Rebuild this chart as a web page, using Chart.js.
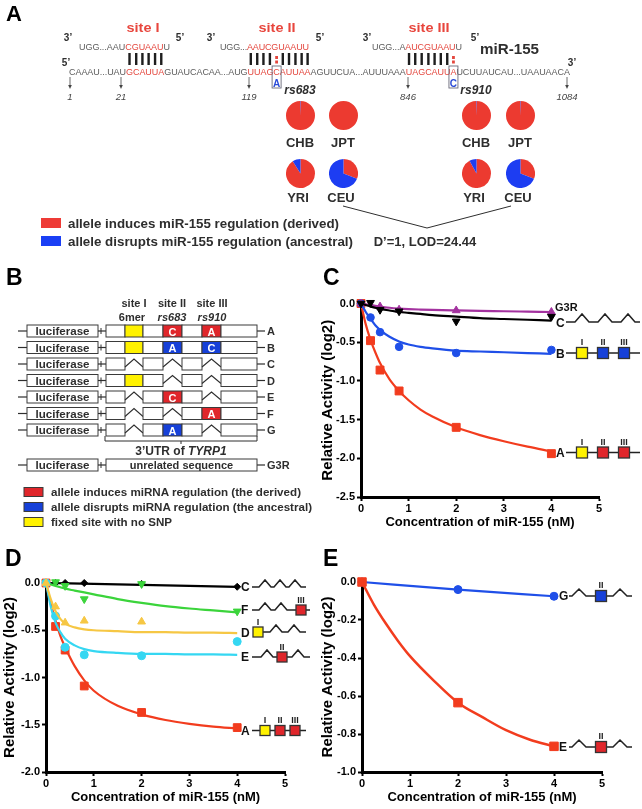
<!DOCTYPE html>
<html>
<head>
<meta charset="utf-8">
<title>miR-155 / TYRP1</title>
<script src="https://cdn.jsdelivr.net/npm/chart.js@4.4.1/dist/chart.umd.min.js"></script>
<style>
  html, body { margin: 0; padding: 0; background: #fff; overflow: hidden; }
  #page { position: relative; width: 642px; height: 809px; }
  #page canvas { position: absolute; }
  #art { position: absolute; left: 0; top: 0; font-family: "Liberation Sans", Arial, sans-serif; }
</style>
</head>
<body>
<div id="page">
  <canvas id="chartC" width="322" height="240" style="left:320px; top:290px"></canvas>
  <canvas id="chartD" width="320" height="249" style="left:0px; top:560px"></canvas>
  <canvas id="chartE" width="322" height="249" style="left:320px; top:560px"></canvas>
  <svg id="art" width="642" height="809" xmlns="http://www.w3.org/2000/svg"></svg>
</div>
<script>
// ---- values ----

// A: allele frequencies per HapMap population
const populations = ['CHB', 'JPT', 'YRI', 'CEU'];
const rs683Derived   = [0.995, 1.00, 0.91, 0.31];
const rs683Ancestral = [0.005, 0.00, 0.09, 0.69];
const rs910Derived   = [0.995, 0.995, 0.92, 0.31];
const rs910Ancestral = [0.005, 0.005, 0.08, 0.69];

// B: reporter constructs ('' = site deleted)
const constructs = ['A', 'B', 'C', 'D', 'E', 'F', 'G'];
const siteI   = ['6mer', '6mer', '', '6mer', '', '', ''];
const siteII  = ['C', 'A', '', '', 'C', '', 'A'];   // rs683, C is derived
const siteIII = ['A', 'C', '', '', '', 'A', ''];    // rs910, A is derived

// C
const concC   = [0, 0.2, 0.4, 0.8, 2, 4];
const cA      = [0, -0.48, -0.86, -1.13, -1.60, -1.94];
const cB      = [0, -0.18, -0.37, -0.56, -0.64, -0.60];
const cC      = [0, 0.01, -0.08, -0.10, -0.23, -0.17];
const concG3R = [0, 0.4, 0.8, 2, 4];
const cG3R    = [0, -0.04, -0.08, -0.09, -0.11];
const fitXC   = [0, 0.1, 0.2, 0.3, 0.4, 0.6, 0.8, 1, 1.25, 1.5, 2, 2.5, 3, 3.5, 4];
const fitCA   = [0, -0.27, -0.47, -0.63, -0.77, -0.98, -1.13, -1.25, -1.37, -1.46, -1.60, -1.70, -1.78, -1.85, -1.91];
const fitCB   = [0, -0.11, -0.20, -0.28, -0.34, -0.43, -0.49, -0.53, -0.56, -0.58, -0.61, -0.62, -0.63, -0.64, -0.65];
const fitCC   = [0, -0.02, -0.04, -0.055, -0.07, -0.09, -0.11, -0.12, -0.135, -0.15, -0.17, -0.19, -0.20, -0.21, -0.22];
const fitCG3R = [0, -0.01, -0.02, -0.03, -0.04, -0.055, -0.065, -0.072, -0.078, -0.083, -0.09, -0.096, -0.10, -0.105, -0.11];

// D
const concD  = [0, 0.2, 0.4, 0.8, 2, 4];
const dA     = [0, -0.46, -0.71, -1.09, -1.37, -1.53];
const dE     = [0, -0.35, -0.68, -0.76, -0.77, -0.62];
const dF     = [0, 0.01, -0.03, -0.17, -0.01, -0.30];
const dC     = [0, 0, 0, 0, -0.01, -0.04];
const concDD = [0, 0.2, 0.4, 0.8, 2];
const dD     = [0, -0.25, -0.42, -0.40, -0.41];
const fitXD  = [0, 0.1, 0.2, 0.3, 0.4, 0.6, 0.8, 1, 1.5, 2, 2.5, 3, 3.5, 4];
const fitDA  = [0, -0.22, -0.40, -0.56, -0.68, -0.88, -1.03, -1.14, -1.30, -1.39, -1.45, -1.49, -1.52, -1.54];
const fitDE  = [0, -0.25, -0.42, -0.52, -0.59, -0.66, -0.70, -0.72, -0.74, -0.75, -0.75, -0.755, -0.755, -0.76];
const fitDD  = [0, -0.17, -0.30, -0.38, -0.43, -0.47, -0.49, -0.50, -0.51, -0.52, -0.52, -0.525, -0.525, -0.53];
const fitDF  = [0, -0.015, -0.03, -0.045, -0.06, -0.08, -0.10, -0.12, -0.17, -0.21, -0.245, -0.27, -0.29, -0.31];
const fitXDC = [0, 1, 2, 3, 4];
const fitDC  = [0, -0.01, -0.02, -0.03, -0.04];

// E
const concE = [0, 2, 4];
const eG    = [0, -0.04, -0.075];
const eE    = [0, -0.635, -0.865];
const fitXE = [0, 0.25, 0.5, 0.75, 1, 1.5, 2, 2.5, 3, 3.5, 4];
const fitEE = [0, -0.12, -0.22, -0.31, -0.39, -0.52, -0.635, -0.71, -0.78, -0.83, -0.865];

// ---- colours ----
const RED = '#f23c1e', BLUE = '#1f4fe8', PURPLE = '#a3329f', GREEN = '#3bd43b', GOLD = '#f6c744', CYAN = '#35d7f2';
const PIE_RED = '#ec3a30', PIE_BLUE = '#1d3df2';
const BOX_RED = '#e0262b', BOX_BLUE = '#1640d8', BOX_YEL = '#fff200';
const INK = '#2e2e2e', SEQ_GRAY = '#5c5c5c', SEQ_RED = '#e4473e';
const FONT = '"Liberation Sans", Arial, sans-serif';

// ---- svg helpers for the drawn schematics ----
const NS = 'http://www.w3.org/2000/svg';
const svg = document.getElementById('art');
const page = document.getElementById('page');

function el(tag, attrs, content) {
  const e = document.createElementNS(NS, tag);
  for (const k in attrs) e.setAttribute(k, attrs[k]);
  if (content !== undefined) e.textContent = content;
  svg.appendChild(e);
  return e;
}
function text(x, y, s, o = {}) {
  const a = { x, y, 'font-size': o.size || 11, fill: o.fill || INK };
  if (o.weight) a['font-weight'] = o.weight;
  if (o.style) a['font-style'] = o.style;
  if (o.anchor) a['text-anchor'] = o.anchor;
  if (o.len) { a.textLength = o.len; a.lengthAdjust = o.adjust || 'spacingAndGlyphs'; }
  return el('text', a, s);
}
function rich(x, y, parts, o = {}) {
  const t = text(x, y, '', o);
  parts.forEach(p => {
    const sp = document.createElementNS(NS, 'tspan');
    sp.setAttribute('fill', p[1]);
    if (p[2]) sp.setAttribute('font-style', p[2]);
    sp.textContent = p[0];
    t.appendChild(sp);
  });
  return t;
}
function line(x1, y1, x2, y2, color, w) {
  return el('line', { x1, y1, x2, y2, stroke: color || INK, 'stroke-width': w || 1 });
}
function box(x, y, w, h, fill, stroke, sw) {
  return el('rect', { x, y, width: w, height: h, fill, stroke: stroke || 'none', 'stroke-width': sw || 1 });
}

// ---------- panel A ----------
text(6, 21, 'A', { size: 22, weight: 'bold', fill: '#000' });
[['site I', 143, 33], ['site II', 277, 37], ['site III', 429, 41]].forEach(([s, x, w]) =>
  text(x, 32, s, { size: 13, weight: 'bold', fill: '#e8463d', anchor: 'middle', len: w }));
[[68, '3’'], [180, '5’'], [211, '3’'], [320, '5’'], [367, '3’'], [475, '5’']].forEach(([x, s]) =>
  text(x, 41, s, { size: 10, weight: 'bold', anchor: 'middle' }));

rich(79, 50, [['UGG...AAU', SEQ_GRAY], ['CGUAAU', SEQ_RED], ['U', SEQ_GRAY]], { size: 9, len: 91, adjust: 'spacing' });
rich(220, 50, [['UGG...', SEQ_GRAY], ['AAUCGUAAUU', SEQ_RED]], { size: 9, len: 89, adjust: 'spacing' });
rich(372, 50, [['UGG...A', SEQ_GRAY], ['AUCGUAAU', SEQ_RED], ['U', SEQ_GRAY]], { size: 9, len: 90, adjust: 'spacing' });
text(480, 54, 'miR-155', { size: 15, weight: 'bold', len: 59 });

text(66, 66, '5’', { size: 10, weight: 'bold', anchor: 'middle' });
text(572, 66, '3’', { size: 10, weight: 'bold', anchor: 'middle' });
const mrnaParts = [
  ['CAAAU...UAU', SEQ_GRAY], ['GCAUUA', SEQ_RED], ['GUAUCACAA...AUG', SEQ_GRAY],
  ['UUAGCAUUAA', SEQ_RED], ['AGUUCUA...AUUUAAA', SEQ_GRAY], ['UAGCAUUA', SEQ_RED],
  ['UCUUAUCAU...UAAUAACA', SEQ_GRAY]
];
const mrna = rich(69, 75, mrnaParts, { size: 9, len: 501, adjust: 'spacing' });
let cum = 0;
const partStart = mrnaParts.map(p => { const s = cum; cum += p[0].length; return s; });
function charBox(part, i) { return mrna.getExtentOfChar(partStart[part] + i); }

// base pairing bars over each red target stretch (red marks = SNP position)
[[1, -1], [3, 4], [5, 7]].forEach(([part, snp]) => {
  const n = mrnaParts[part][0].length;
  for (let i = 0; i < n; i++) {
    const b = charBox(part, i), x = b.x + b.width / 2;
    if (i === snp) {
      box(x - 1.4, 56, 2.8, 3, SEQ_RED);
      box(x - 1.4, 60.5, 2.8, 3, SEQ_RED);
    } else {
      box(x - 1.2, 53, 2.4, 12, '#1e1e1e');
    }
  }
});

// SNP boxes with the ancestral base below
[[3, 4, 'A'], [5, 7, 'C']].forEach(([part, i, base]) => {
  const b = charBox(part, i), x = b.x + b.width / 2;
  box(x - 4.5, 66, 9, 22, 'none', '#6a6a7a', 0.9);
  text(x, 87, base, { size: 10, weight: 'bold', fill: '#2a4bd7', anchor: 'middle' });
});

// position arrows
[[70, '1'], [121, '21'], [249, '119'], [408, '846'], [567, '1084']].forEach(([x, s]) => {
  line(x, 77, x, 86, '#444', 0.8);
  el('path', { d: `M${x - 1.8},85 L${x + 1.8},85 L${x},89 Z`, fill: '#444' });
  text(x, 100, s, { size: 9.5, style: 'italic', fill: '#444', anchor: 'middle' });
});

text(300, 94, 'rs683', { size: 12, weight: 'bold', style: 'italic', anchor: 'middle' });
text(476, 94, 'rs910', { size: 12, weight: 'bold', style: 'italic', anchor: 'middle' });

// pie labels (population names), grid of 2 x 2 per SNP
const pieCols = [[300, 343], [476, 520]];
const pieRows = [115, 173];
const labelRows = [146.5, 201.5];
pieCols.forEach(cols => {
  populations.forEach((p, i) => {
    text(cols[i % 2] - (i >= 2 ? 2 : 0), labelRows[Math.floor(i / 2)], p, { size: 13, weight: 'bold', anchor: 'middle' });
  });
});

// LD link between CEU pies
el('polyline', { points: '343,206 427,228 511,206', fill: 'none', stroke: INK, 'stroke-width': 1 });
text(425, 245.5, 'D’=1, LOD=24.44', { size: 13, weight: 'bold', anchor: 'middle' });

// legend
box(41, 218, 20, 10, '#ee3b36');
box(41, 236, 20, 10, '#1a3ff5');
text(68, 227.5, 'allele induces miR-155 regulation (derived)', { size: 12.5, weight: 'bold', len: 271 });
text(68, 245.5, 'allele disrupts miR-155 regulation (ancestral)', { size: 12.5, weight: 'bold', len: 285 });

// ---------- panel B ----------
text(6, 285, 'B', { size: 23, weight: 'bold', fill: '#000' });
const segX = [106, 125, 143, 163, 182, 202, 221, 257];
text(134, 307, 'site I', { size: 11, weight: 'bold', anchor: 'middle' });
text(172, 307, 'site II', { size: 11, weight: 'bold', anchor: 'middle' });
text(212, 307, 'site III', { size: 11, weight: 'bold', anchor: 'middle' });
text(132, 321, '6mer', { size: 11, weight: 'bold', anchor: 'middle' });
text(172, 321, 'rs683', { size: 11, weight: 'bold', style: 'italic', anchor: 'middle' });
text(212, 321, 'rs910', { size: 11, weight: 'bold', style: 'italic', anchor: 'middle' });

function lucFrame(y, name) {
  line(18, y, 27, y, INK, 1.2);
  box(27, y - 6, 71, 12, '#fff', '#3a3a3a', 1);
  text(62.5, y + 4, 'luciferase', { size: 11, weight: 'bold', anchor: 'middle', len: 54 });
  line(98, y, 106, y, INK, 1.2);
  line(101, y - 3, 101, y + 3, INK, 1);
  line(257, y, 265, y, INK, 1.2);
  text(267, y + 4, name, { size: 11, weight: 'bold' });
}

constructs.forEach((name, r) => {
  const y = 331 + r * 16.5;
  lucFrame(y, name);
  const sites = [siteI[r], siteII[r], siteIII[r]];
  for (let s = 0; s < 7; s++) {
    const x0 = segX[s], x1 = segX[s + 1];
    if (s % 2 === 0) { box(x0, y - 6, x1 - x0, 12, '#fff', '#3a3a3a', 1); continue; }
    const k = (s - 1) / 2, v = sites[k];
    if (!v) {
      el('polyline', { points: `${x0},${y + 3} ${(x0 + x1) / 2},${y - 5} ${x1},${y + 3}`, fill: 'none', stroke: INK, 'stroke-width': 1.1 });
    } else if (k === 0) {
      box(x0, y - 6, x1 - x0, 12, BOX_YEL, '#3a3a3a', 1);
    } else {
      const derived = (k === 1 && v === 'C') || (k === 2 && v === 'A');
      box(x0, y - 6, x1 - x0, 12, derived ? BOX_RED : BOX_BLUE, '#3a3a3a', 1);
      text((x0 + x1) / 2, y + 4.5, v, { size: 11, weight: 'bold', fill: '#fff', anchor: 'middle' });
    }
  }
});

el('path', { d: 'M105,436 L105,441 L257,441 L257,436 M181,441 L181,444', fill: 'none', stroke: INK, 'stroke-width': 1 });
rich(181, 455, [['3’UTR of ', INK], ['TYRP1', INK, 'italic']], { size: 12, weight: 'bold', anchor: 'middle' });

lucFrame(465, 'G3R');
box(106, 459, 151, 12, '#fff', '#3a3a3a', 1);
text(181.5, 469, 'unrelated sequence', { size: 11, weight: 'bold', anchor: 'middle' });

[[BOX_RED, 'allele induces miRNA regulation (the derived)', 250],
 [BOX_BLUE, 'allele disrupts miRNA regulation (the ancestral)', 261],
 [BOX_YEL, 'fixed site with no SNP', 121]].forEach(([c, s, w], i) => {
  const y = 492 + i * 15;
  box(24, y - 4.5, 19, 9, c, '#3a3a3a', 1);
  text(51, y + 4, s, { size: 11.5, weight: 'bold', len: w });
});

// ---------- construct sketches next to the curves ----------
function sketch(y, x0, x1, items, o) {
  let d = `M${x0},${y}`;
  items.forEach(it => {
    if (it.peak !== undefined) d += ` L${it.peak - o.pw},${y} L${it.peak},${y - o.ph} L${it.peak + o.pw},${y}`;
  });
  d += ` L${x1},${y}`;
  el('path', { d, fill: 'none', stroke: '#222', 'stroke-width': 1.5 });
  items.forEach(it => {
    if (it.sq === undefined) return;
    box(it.sq - o.s / 2, y - o.s / 2, o.s, o.s, it.c, '#333', 1.3);
    text(it.sq, y - o.s / 2 - 2.5, it.l, { size: 9, weight: 'bold', fill: '#222', anchor: 'middle' });
  });
}

// C
text(323, 285, 'C', { size: 23, weight: 'bold', fill: '#000' });
const optC = { s: 11, pw: 7, ph: 8 };
text(555, 311, 'G3R', { size: 11, weight: 'bold', fill: '#111' });
text(556, 326.5, 'C', { size: 12, weight: 'bold', fill: '#111' });
sketch(322, 566, 640, [{ peak: 582 }, { peak: 605 }, { peak: 628 }], optC);
text(556, 357.5, 'B', { size: 12, weight: 'bold', fill: '#111' });
sketch(353, 566, 640, [{ sq: 582, c: BOX_YEL, l: 'I' }, { sq: 603, c: BOX_BLUE, l: 'II' }, { sq: 624, c: BOX_BLUE, l: 'III' }], optC);
text(556, 457, 'A', { size: 12, weight: 'bold', fill: '#111' });
sketch(452.5, 566, 640, [{ sq: 582, c: BOX_YEL, l: 'I' }, { sq: 603, c: BOX_RED, l: 'II' }, { sq: 624, c: BOX_RED, l: 'III' }], optC);

// D
text(5, 566, 'D', { size: 23, weight: 'bold', fill: '#000' });
const optD = { s: 10, pw: 6, ph: 7 };
text(241, 591, 'C', { size: 12, weight: 'bold', fill: '#111' });
sketch(587, 252, 306, [{ peak: 265 }, { peak: 280 }, { peak: 295 }], optD);
text(241, 614, 'F', { size: 12, weight: 'bold', fill: '#111' });
sketch(610, 252, 310, [{ peak: 265 }, { peak: 281 }, { sq: 301, c: BOX_RED, l: 'III' }], optD);
text(241, 636.5, 'D', { size: 12, weight: 'bold', fill: '#111' });
sketch(632, 253, 306, [{ sq: 258, c: BOX_YEL, l: 'I' }, { peak: 276 }, { peak: 294 }], optD);
text(241, 661, 'E', { size: 12, weight: 'bold', fill: '#111' });
sketch(657, 252, 310, [{ peak: 267 }, { sq: 282, c: BOX_RED, l: 'II' }, { peak: 298 }], optD);
text(241, 734.5, 'A', { size: 12, weight: 'bold', fill: '#111' });
sketch(730.5, 252, 306, [{ sq: 265, c: BOX_YEL, l: 'I' }, { sq: 280, c: BOX_RED, l: 'II' }, { sq: 295, c: BOX_RED, l: 'III' }], optD);

// E
text(323, 566, 'E', { size: 23, weight: 'bold', fill: '#000' });
const optE = { s: 11, pw: 7, ph: 7 };
text(559, 600, 'G', { size: 12, weight: 'bold', fill: '#111' });
sketch(596, 569, 632, [{ peak: 579 }, { sq: 601, c: BOX_BLUE, l: 'II' }, { peak: 620 }], optE);
text(559, 751, 'E', { size: 12, weight: 'bold', fill: '#111' });
sketch(747, 569, 632, [{ peak: 579 }, { sq: 601, c: BOX_RED, l: 'II' }, { peak: 620 }], optE);

// ---------- Chart.js: pies ----------
Chart.defaults.font.family = FONT;
Chart.defaults.color = '#000';

function makePie(cx, cy, derived, ancestral) {
  const c = document.createElement('canvas');
  c.width = 29; c.height = 29;
  c.style.left = (cx - 14.5) + 'px';
  c.style.top = (cy - 14.5) + 'px';
  page.appendChild(c);
  new Chart(c, {
    type: 'pie',
    data: {
      labels: ['derived', 'ancestral'],
      datasets: [{ data: [derived, ancestral], backgroundColor: [PIE_RED, PIE_BLUE], borderWidth: 0 }]
    },
    options: {
      responsive: false, animation: false, events: [], devicePixelRatio: 1,
      layout: { padding: 0 },
      plugins: { legend: { display: false }, tooltip: { enabled: false } }
    }
  });
}
populations.forEach((p, i) => {
  const col = i % 2, row = Math.floor(i / 2);
  makePie(pieCols[0][col], pieRows[row], rs683Derived[i], rs683Ancestral[i]);
  makePie(pieCols[1][col], pieRows[row], rs910Derived[i], rs910Ancestral[i]);
});

// ---------- Chart.js: dose curves ----------
function xy(xs, ys) { return xs.map((x, i) => ({ x, y: ys[i] })); }
function pts(xs, ys, color, style, radius, rot) {
  return {
    data: xy(xs, ys), showLine: false, clip: false,
    pointStyle: style, pointRadius: radius, pointRotation: rot || 0,
    pointBackgroundColor: color, pointBorderColor: color, pointBorderWidth: 1,
    backgroundColor: color, borderColor: color
  };
}
function fit(xs, ys, color, w) {
  return {
    data: xy(xs, ys), showLine: true, clip: false, pointRadius: 0,
    borderColor: color, borderWidth: w || 2.2, cubicInterpolationMode: 'monotone', fill: false
  };
}

function doseChart(id, o) {
  const tickGrid = { display: true, drawOnChartArea: false, drawTicks: true, tickLength: 4, tickWidth: 2, tickColor: '#000' };
  const border = { display: true, color: '#000', width: 3 };
  return new Chart(document.getElementById(id), {
    type: 'scatter',
    data: { datasets: o.datasets },
    options: {
      responsive: false, animation: false, events: [], devicePixelRatio: 1,
      layout: { padding: { left: 0, right: o.padRight, top: o.padTop, bottom: 0 } },
      plugins: { legend: { display: false }, tooltip: { enabled: false } },
      scales: {
        x: {
          type: 'linear', min: 0, max: 5,
          ticks: { stepSize: 1, padding: 1, color: '#000', maxRotation: 0, font: { size: 11, weight: 'bold' } },
          grid: tickGrid, border,
          title: {
            display: true, text: 'Concentration of miR-155 (nM)', color: '#000',
            font: { size: 13, weight: 'bold', lineHeight: 1.1 }, padding: { top: 0, bottom: o.xTitlePad }
          },
          afterFit: s => { s.height = o.xHeight; }
        },
        y: {
          type: 'linear', min: o.yMin, max: 0,
          ticks: { stepSize: o.yStep, padding: 2, color: '#000', font: { size: 11, weight: 'bold' }, callback: v => v.toFixed(1) },
          grid: tickGrid, border,
          title: {
            display: true, text: 'Relative Activity (log2)', color: '#000',
            font: { size: 15, weight: 'bold', lineHeight: 1 }, padding: { top: o.yTitlePad, bottom: 0 }
          },
          afterFit: s => { s.width = o.yWidth; }
        }
      }
    }
  });
}

doseChart('chartC', {
  padRight: 43, padTop: 13.5, xHeight: 33, yWidth: 41, xTitlePad: 0, yTitlePad: 0, yMin: -2.5, yStep: 0.5,
  datasets: [
    fit(fitXC, fitCC, '#000'), pts(concC, cC, '#000', 'triangle', 4.5, 180),
    fit(fitXC, fitCG3R, PURPLE), pts(concG3R, cG3R, PURPLE, 'triangle', 4.5),
    fit(fitXC, fitCB, BLUE), pts(concC, cB, BLUE, 'circle', 3.8),
    fit(fitXC, fitCA, RED), pts(concC, cA, RED, 'rect', 5.6)
  ]
});

doseChart('chartD', {
  padRight: 35, padTop: 23, xHeight: 37, yWidth: 46, xTitlePad: 4, yTitlePad: 2, yMin: -2, yStep: 0.5,
  datasets: [
    fit(fitXD, fitDD, GOLD), pts(concDD, dD, GOLD, 'triangle', 4.5),
    fit(fitXD, fitDE, CYAN), pts(concD, dE, CYAN, 'circle', 4),
    fit(fitXD, fitDF, GREEN), pts(concD, dF, GREEN, 'triangle', 4.5, 180),
    fit(fitXD, fitDA, RED), pts(concD, dA, RED, 'rect', 5.5),
    fit(fitXDC, fitDC, '#000'), pts(concD, dC, '#000', 'rectRot', 3.5)
  ]
});

doseChart('chartE', {
  padRight: 40, padTop: 22, xHeight: 37, yWidth: 42, xTitlePad: 4, yTitlePad: 0, yMin: -1, yStep: 0.2,
  datasets: [
    fit(fitXE, fitEE, RED, 2.5), pts(concE, eE, RED, 'rect', 6),
    fit(concE, eG, BLUE, 2.2), pts(concE, eG, BLUE, 'circle', 4)
  ]
});
</script>
</body>
</html>
